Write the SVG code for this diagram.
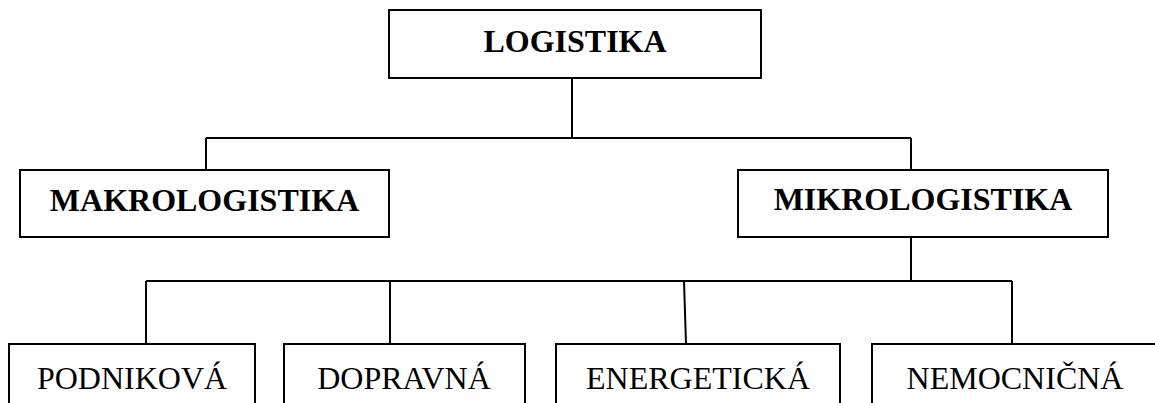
<svg xmlns="http://www.w3.org/2000/svg" width="1155" height="403" viewBox="0 0 1155 403">
<style>
.box{fill:#fff;stroke:#000;stroke-width:2}
.ln{fill:none;stroke:#000;stroke-width:2}
.b{font-family:"Liberation Serif","Times New Roman",serif;font-size:32px;font-weight:bold;text-anchor:middle;fill:#000}
.r{font-family:"Liberation Serif","Times New Roman",serif;font-size:32px;text-anchor:middle;fill:#000}
</style>
<rect width="1155" height="403" fill="#fff"/>
<g id="connectors">
<path class="ln" d="M572 78V138M206 138H911M206 138V170M911 138V170"/>
<path class="ln" d="M911 237V281M146 281H1012M146 281V344M390 281V344M684 281L686 344M1012 281V344"/>
</g>
<g id="logistika"><rect class="box" x="389" y="10" width="372" height="68"/><text class="b" x="575" y="52">LOGISTIKA</text></g>
<g id="makro"><rect class="box" x="20" y="170" width="369" height="67"/><text class="b" x="204.5" y="211">MAKROLOGISTIKA</text></g>
<g id="mikro"><rect class="box" x="738" y="170" width="370" height="67"/><text class="b" x="923" y="210">MIKROLOGISTIKA</text></g>
<g id="podnikova"><rect class="box" x="9" y="344" width="246" height="70"/><text class="r" x="132" y="389">PODNIKOVÁ</text></g>
<g id="dopravna"><rect class="box" x="284" y="344" width="241" height="70"/><text class="r" x="404" y="389">DOPRAVNÁ</text></g>
<g id="energeticka"><rect class="box" x="556" y="344" width="284" height="70"/><text class="r" x="698" y="389">ENERGETICKÁ</text></g>
<g id="nemocnicna"><rect class="box" x="872" y="344" width="290" height="70"/><text class="r" x="1015" y="389">NEMOCNIČNÁ</text></g>
</svg>
